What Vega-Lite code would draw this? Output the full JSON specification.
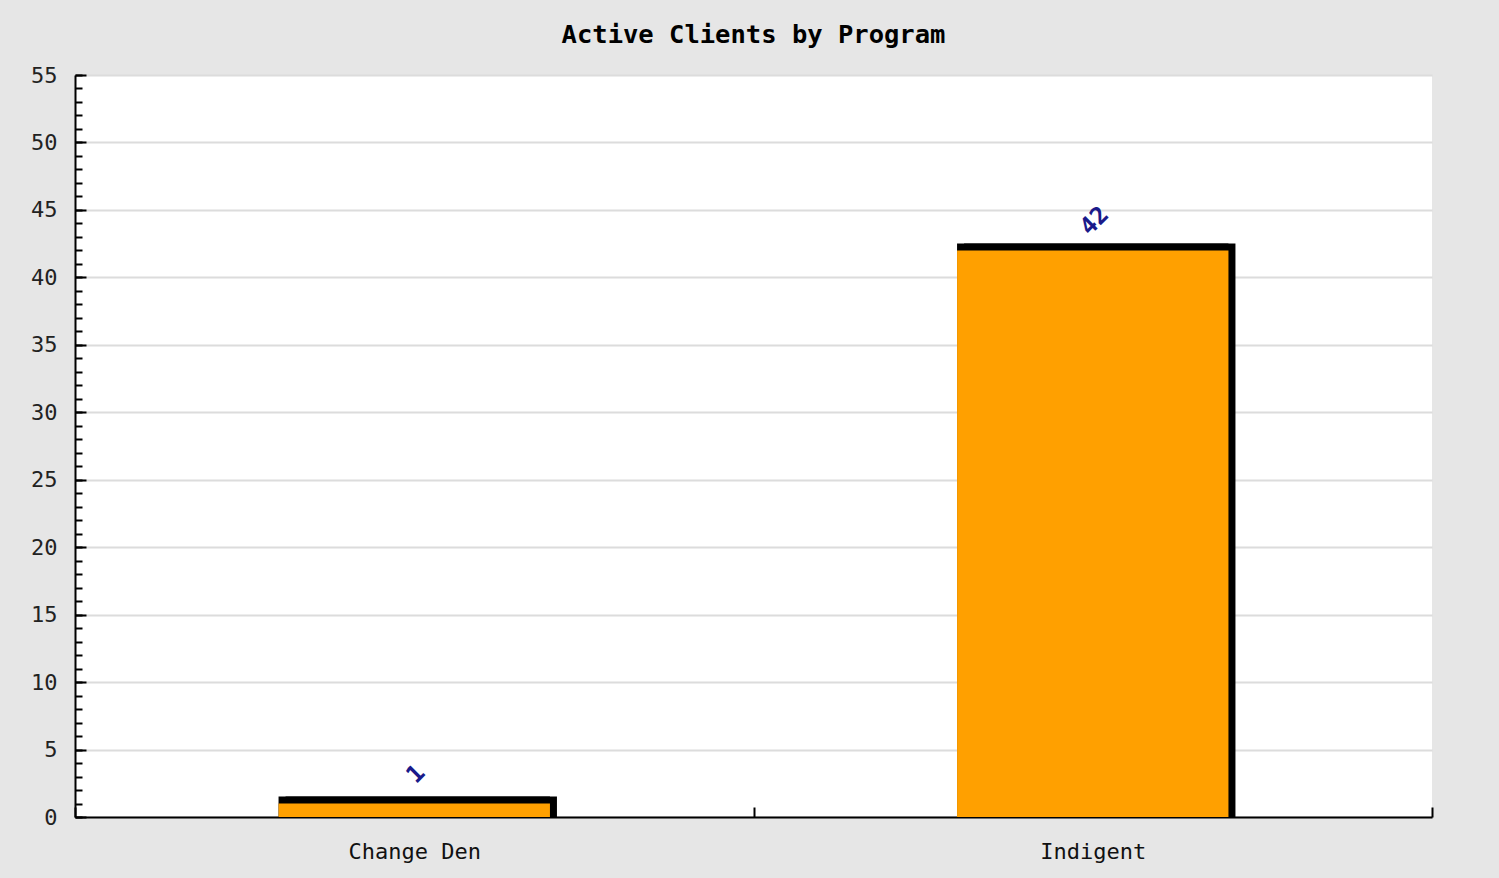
{
  "$schema": "https://vega.github.io/schema/vega-lite/v6.json",
  "width": 1357,
  "height": 742,
  "autosize": {"type": "none"},
  "padding": {"left": 75, "top": 75, "right": 67, "bottom": 61},
  "background": "#e6e6e6",
  "title": {"text": "Active Clients by Program", "font": "DejaVu Sans Mono", "fontSize": 25.5, "fontWeight": "bold", "color": "#000000", "anchor": "middle", "offset": 16},
  "data": {"values": [
    {"program": "Change Den", "clients": 1},
    {"program": "Indigent", "clients": 42}
  ]},
  "encoding": {
    "x": {
      "field": "program", "type": "nominal", "sort": null,
      "scale": {"paddingInner": 0, "paddingOuter": 0},
      "axis": {"title": null, "labelAngle": 0, "ticks": true, "tickBand": "extent", "tickSize": -10, "tickWidth": 2, "tickColor": "#000000", "domainColor": "#000000", "domainWidth": 2, "labelFont": "DejaVu Sans Mono", "labelFontSize": 22, "labelColor": "#111111", "labelPadding": 34, "grid": false}
    }
  },
  "layer": [
    {
      "mark": {"type": "bar", "color": "#000000", "yOffset": -7, "width": {"band": 0.4}},
      "encoding": {
        "y": {"field": "clients", "type": "quantitative", "scale": {"domain": [0, 55], "nice": false},
          "axis": {"orient": "left", "title": null, "values": [0,1,2,3,4,5,6,7,8,9,10,11,12,13,14,15,16,17,18,19,20,21,22,23,24,25,26,27,28,29,30,31,32,33,34,35,36,37,38,39,40,41,42,43,44,45,46,47,48,49,50,51,52,53,54,55], "tickSize": -7, "tickWidth": 2, "tickColor": "#000000", "labels": false, "grid": false, "domain": false}},
        "y2": {"datum": 0}
      }
    },
    {
      "mark": {"type": "bar", "color": "#000000", "xOffset": 7, "yOffset": -7, "width": {"band": 0.4}},
      "encoding": {
        "y": {"field": "clients", "type": "quantitative", "scale": {"domain": [0, 55], "nice": false}, "axis": null},
        "y2": {"datum": 0}
      }
    },
    {
      "mark": {"type": "bar", "color": "#ffa000", "width": {"band": 0.4}},
      "encoding": {
        "y": {"field": "clients", "type": "quantitative", "scale": {"domain": [0, 55], "nice": false},
          "axis": {"orient": "left", "title": null, "values": [0,5,10,15,20,25,30,35,40,45,50,55], "tickSize": -11, "tickWidth": 2, "tickColor": "#000000", "domain": true, "domainColor": "#000000", "domainWidth": 2, "grid": true, "gridColor": "#dcdcdc", "gridWidth": 2, "labelFont": "DejaVu Sans Mono", "labelFontSize": 22, "labelColor": "#222222", "labelPadding": 29}}
      }
    },
    {
      "mark": {"type": "text", "angle": -45, "align": "center", "baseline": "middle", "yOffset": -29, "xOffset": 2, "font": "DejaVu Sans Mono", "fontWeight": "bold", "fontSize": 24, "color": "#1a1a8a"},
      "encoding": {
        "y": {"field": "clients", "type": "quantitative", "scale": {"domain": [0, 55], "nice": false}, "axis": null},
        "text": {"field": "clients", "type": "quantitative"}
      }
    }
  ],
  "resolve": {"axis": {"y": "independent"}},
  "config": {"view": {"stroke": null, "fill": "#ffffff"}}
}
